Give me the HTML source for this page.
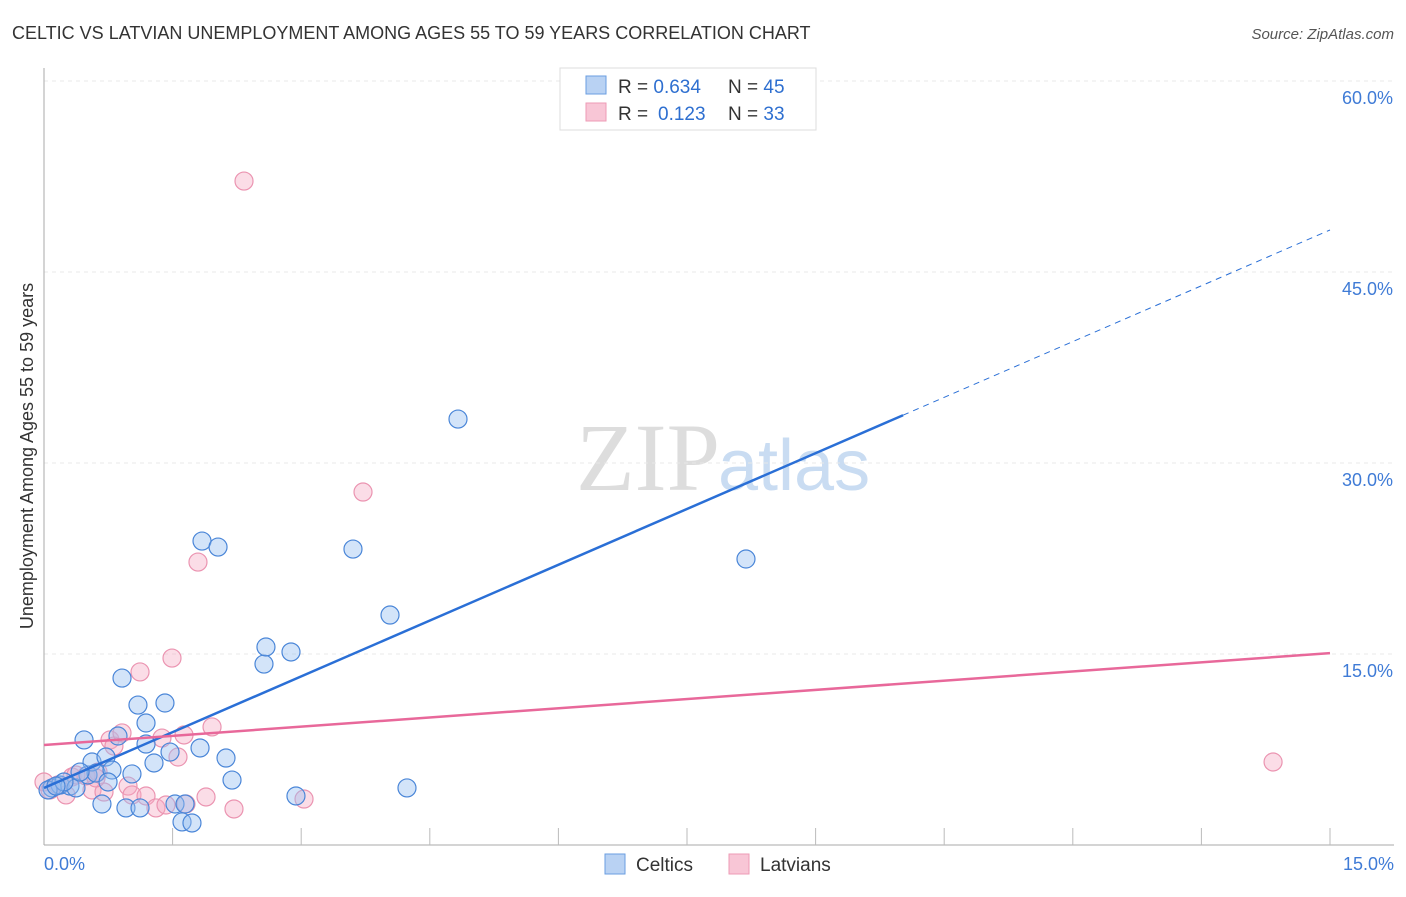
<!DOCTYPE html>
<html><head><meta charset="utf-8"><style>
body{margin:0;background:#fff;font-family:"Liberation Sans",sans-serif;}
</style></head><body>
<svg id="c" width="1406" height="892" xmlns="http://www.w3.org/2000/svg">
<text x="12" y="39" font-size="18" fill="#333">CELTIC VS LATVIAN UNEMPLOYMENT AMONG AGES 55 TO 59 YEARS CORRELATION CHART</text>
<text x="1394" y="39" font-size="15" fill="#555" font-style="italic" text-anchor="end">Source: ZipAtlas.com</text>
<text x="720" y="490" font-size="96" fill="#ddd" text-anchor="end" font-family="Liberation Serif">ZIP</text>
<text x="718" y="490" font-size="72" fill="#c9dcf2">atlas</text>
<text transform="translate(33,456) rotate(-90)" font-size="18" fill="#333" text-anchor="middle">Unemployment Among Ages 55 to 59 years</text>
<g id="grid"></g><g id="pts"></g><g id="lines"></g>
<g>
<rect x="560" y="68" width="256" height="62" fill="#fff" stroke="#ddd"/>
<rect x="586" y="76" width="20" height="18" fill="#b9d2f3" stroke="#6a9ee0"/>
<rect x="586" y="103" width="20" height="18" fill="#f8c6d6" stroke="#ee9bb6"/>
<text x="618" y="93" font-size="19" fill="#333">R = <tspan fill="#2e6fd0">0.634</tspan><tspan x="728">N = </tspan><tspan fill="#2e6fd0">45</tspan></text>
<text x="618" y="120" font-size="19" fill="#333">R = <tspan x="658" fill="#2e6fd0">0.123</tspan><tspan x="728">N = </tspan><tspan fill="#2e6fd0">33</tspan></text>
</g>
<g>
<rect x="605" y="854" width="20" height="20" fill="#b9d2f3" stroke="#6a9ee0"/>
<text x="636" y="871" font-size="19" fill="#333">Celtics</text>
<rect x="729" y="854" width="20" height="20" fill="#f8c6d6" stroke="#ee9bb6"/>
<text x="760" y="871" font-size="19" fill="#333">Latvians</text>
</g>
</svg>
<script>
const yTicks=[15,30,45,60];
const yTickLabels=["15.0%","30.0%","45.0%","60.0%"];
const xTickLabels=["0.0%","15.0%"];
const celticX=[0.093,0.187,0.303,0.373,0.467,0.513,0.56,0.607,0.676,0.723,0.793,0.863,0.91,0.956,1.026,1.096,1.12,1.19,1.19,1.283,1.411,1.47,1.528,1.61,1.645,1.726,1.82,1.843,2.03,2.123,2.193,2.566,2.589,2.881,2.939,3.604,4.036,4.234,4.829,8.188,0.047,0.233,0.42,0.747,0.14];
const celticY=[4.48,4.71,4.63,4.48,8.25,5.5,6.52,5.65,3.22,6.91,5.89,8.56,13.11,2.91,5.58,10.99,2.91,9.58,7.93,6.44,11.15,7.3,3.22,1.81,3.22,1.73,7.62,23.87,23.4,6.83,5.1,14.21,15.55,15.16,3.85,23.24,18.06,4.48,33.45,22.46,4.32,4.95,5.73,4.95,4.63];
const latvX=[0,0.07,0.163,0.257,0.327,0.49,0.56,0.63,0.7,0.77,0.816,0.91,0.98,1.026,1.12,1.19,1.306,1.376,1.423,1.493,1.563,1.633,1.656,1.796,1.89,1.96,2.216,2.333,3.033,3.721,14.336,0.607,0.373];
const latvY=[4.95,4.32,4.71,3.93,5.34,5.42,4.32,5.73,4.16,8.25,7.77,8.8,4.63,3.93,13.59,3.85,2.91,8.4,3.14,14.68,6.91,8.64,3.22,22.22,3.77,9.27,2.83,52.14,3.61,27.72,6.52,5.26,5.5];
const celticTrend=[4.48,48.3];
const latvTrend=[7.85,15.07];
const NS="http://www.w3.org/2000/svg";
const X=v=>44+v/15*1286, Y=v=>845-v/15*191;
function mk(p,t,a){const e=document.createElementNS(NS,t);for(const k in a)e.setAttribute(k,a[k]);p.appendChild(e);return e;}
const g=document.getElementById('grid');
yTicks.forEach((t,i)=>{
 const l=mk(g,'line',{x1:44,x2:1394,y1:Y(t),y2:Y(t),stroke:'#e8e8e8','stroke-dasharray':'4,4'});
 
 
 const tx=mk(g,'text',{x:1393,y:Y(t)+23,'font-size':18,fill:'#3f7bd6','text-anchor':'end'});tx.textContent=yTickLabels[i];
 
 
});
mk(g,'line',{x1:44,x2:1394,y1:81,y2:81,stroke:'#e8e8e8','stroke-dasharray':'4,4'});
mk(g,'line',{x1:44,x2:44,y1:68,y2:845,stroke:'#aaa'});
mk(g,'line',{x1:44,x2:1394,y1:845,y2:845,stroke:'#aaa'});
for(let i=1;i<=10;i++){const x=X(i*1.5);mk(g,'line',{x1:x,x2:x,y1:828,y2:845,stroke:'#bbb'});}
[[0,'start',44],[15,'end',1394]].forEach((d,i)=>{const t=mk(g,'text',{x:d[2],y:870,'font-size':18,fill:'#3f7bd6','text-anchor':d[1]});t.textContent=xTickLabels[i];
 
 });
const p=document.getElementById('pts');
latvX.forEach((v,i)=>{const c=mk(p,'circle',{cx:X(v),cy:Y(latvY[i]),r:9,fill:'rgba(245,170,195,0.4)',stroke:'#eb94b1','stroke-width':1.2});
 
 });
celticX.forEach((v,i)=>{const c=mk(p,'circle',{cx:X(v),cy:Y(celticY[i]),r:9,fill:'rgba(150,190,240,0.42)',stroke:'#4a86d8','stroke-width':1.2});
 
 });
const L=document.getElementById('lines');
const bAt=x=>celticTrend[0]+(celticTrend[1]-celticTrend[0])*x/15;
const b1=mk(L,'line',{x1:X(0),y1:Y(bAt(0)),x2:X(10.02),y2:Y(bAt(10.02)),stroke:'#2a6fd6','stroke-width':2.5});


const b2=mk(L,'line',{x1:X(10.02),y1:Y(bAt(10.02)),x2:X(15),y2:Y(bAt(15)),stroke:'#2a6fd6','stroke-width':1,'stroke-dasharray':'6,5'});


const pl=mk(L,'line',{x1:X(0),y1:Y(latvTrend[0]),x2:X(15),y2:Y(latvTrend[1]),stroke:'#e8689a','stroke-width':2.5});


</script>
</body></html>
